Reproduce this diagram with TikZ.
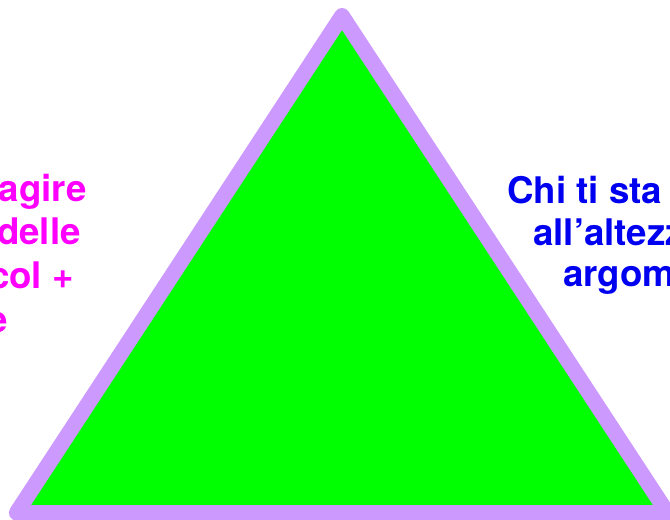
\documentclass[tikz,border=0pt]{standalone}
\usepackage{fontspec}
\setmainfont{TeX Gyre Heros}
\usepackage{xcolor}
\usepackage{tikz}
\usetikzlibrary{positioning}
\definecolor{lavender}{RGB}{204,153,255}
\definecolor{brightgreen}{RGB}{0,255,0}
\definecolor{textpink}{RGB}{255,0,255}
\definecolor{textblue}{RGB}{0,0,240}

\begin{document}
\begin{tikzpicture}[
    x=0.75pt, y=-0.75pt,
    every node/.style={font=\fontsize{27.5}{32}\selectfont\bfseries, inner sep=0pt},
    leftline/.style={text=textpink, anchor=base east},
    rightline/.style={text=textblue, anchor=base west},
    pyramid/.style={draw=lavender, fill=brightgreen, line width=11.7pt, line join=round}
]
\useasboundingbox (0,0) rectangle (670,520);

% the triangle
\coordinate (baseleft) at (16.6,512.8);
\coordinate (apex) at (342,15.8);
\coordinate (baseright) at (667.4,512.8);
\draw[pyramid] (baseleft) -- (apex) -- (baseright) -- cycle;

% text on the left, cut by the edge
\node[leftline] (agire) at (87,202) {agire};
\node[leftline] (delle) at (81,244) {delle};
\node[leftline] (col) at (74,288) {col +};
\node[leftline] (lastE) at (8,332) {e};

% text on the right, cut by the edge
\node[rightline] (chi) at (507,204) {Chi ti sta};
\node[rightline] (altezz) at (533,245) {all'altezz};
\node[rightline] (argom) at (563,286) {argom};

\end{tikzpicture}
\end{document}
